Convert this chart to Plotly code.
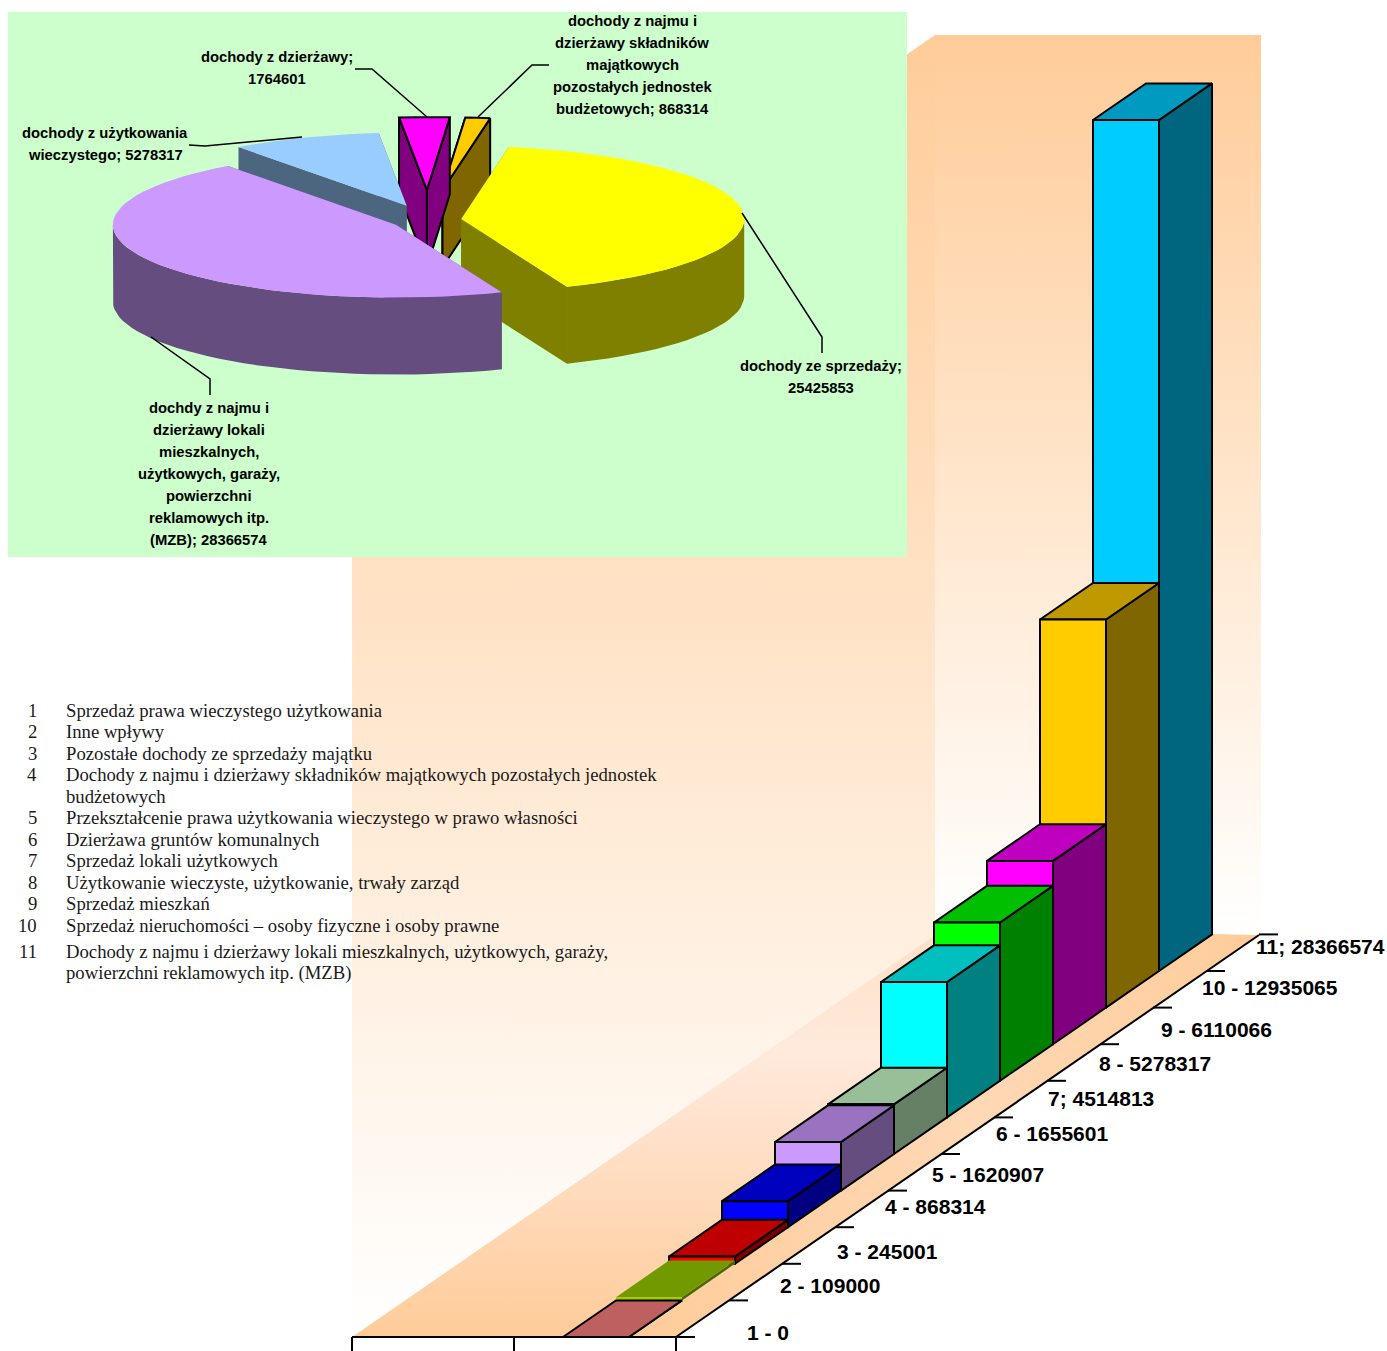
"""
Recreates the chart pair: exploded 3D pie above, stepped 3D bars with legend list.
Both are drawn on one pixel-sized cartesian plot with a small oblique projection.
"""
import math

import plotly.graph_objects as go


# Bars
bar_values = [0, 109000, 245001, 868314, 1620907, 1655601, 4514813, 5278317, 6110066, 12935065, 28366574]
bar_labels = [
    '1 - 0', '2 - 109000', '3 - 245001', '4 - 868314', '5 - 1620907', '6 - 1655601',
    '7; 4514813', '8 - 5278317', '9 - 6110066', '10 - 12935065', '11; 28366574'
]
bar_front = ['#ff8080', '#99cc00', '#ff0000', '#0000ff', '#cc99ff', '#ccffcc',
             '#00ffff', '#00ff00', '#ff00ff', '#ffcc00', '#00ccff']
bar_top = ['#bf6060', '#739900', '#bf0000', '#0000bf', '#9973bf', '#99bf99',
           '#00bfbf', '#00bf00', '#bf00bf', '#bf9900', '#0099bf']
bar_side = ['#804040', '#4d6600', '#800000', '#000080', '#664d80', '#668066',
            '#008080', '#008000', '#800080', '#806600', '#006680']

# Pie, clockwise from the first slice
pie_values = [25425853, 28366574, 5278317, 1764601, 868314]
pie_top = ['#ffff00', '#cc99ff', '#99ccff', '#ff00ff', '#ffcc00']
pie_side = ['#808000', '#664d80', '#4d6680', '#800080', '#806600']
pie_explode = [0.118, 0.13, 0.21, 0.41, 0.41]
pie_outlined = [False, False, False, True, True]
pie_draw_order = [4, 3, 2, 0, 1]

pie_label_lines = [
    ['dochody ze sprzedaży;', '25425853'],
    ['dochdy z najmu i', 'dzierżawy lokali', 'mieszkalnych,', 'użytkowych, garaży,',
     'powierzchni', 'reklamowych itp.', '(MZB); 28366574'],
    ['dochody z użytkowania', 'wieczystego; 5278317'],
    ['dochody z dzierżawy;', '1764601'],
    ['dochody z najmu i', 'dzierżawy składników', 'majątkowych',
     'pozostałych jednostek', 'budżetowych; 868314'],
]

# Legend list
legend_numbers = ['1', '2', '3', '4', '', '5', '6', '7', '8', '9', '10', '11', '']
legend_texts = [
    'Sprzedaż prawa wieczystego użytkowania',
    'Inne wpływy',
    'Pozostałe dochody ze sprzedaży majątku',
    'Dochody z najmu i dzierżawy składników majątkowych pozostałych jednostek',
    'budżetowych',
    'Przekształcenie prawa użytkowania wieczystego w prawo własności',
    'Dzierżawa gruntów komunalnych',
    'Sprzedaż lokali użytkowych',
    'Użytkowanie wieczyste, użytkowanie, trwały zarząd',
    'Sprzedaż mieszkań',
    'Sprzedaż nieruchomości – osoby fizyczne i osoby prawne',
    'Dochody z najmu i dzierżawy lokali mieszkalnych, użytkowych, garaży,',
    'powierzchni reklamowych itp. (MZB)',
]

# Layout of the page (pixels)
WIDTH, HEIGHT = 1387, 1351
BAR_X0, BAR_Y0 = 563, 1337
STEP_X, STEP_Y = 53, 36.6
BAR_W = 66
PX_PER_UNIT = 3.0e-5
PIE_O = (428, 220)
PIE_A, PIE_B = 283, 73
PIE_DEPTH = 77
PIE_START = 80.3

bar_label_x = [768, 830, 887, 935, 988, 1052, 1101, 1155, 1216, 1270, 1320]
bar_label_y = [1332, 1285, 1251, 1206, 1174, 1133, 1098, 1063, 1029, 987, 946]
pie_label_cx = [821, 209, 105, 277, 632]
pie_label_y0 = [365.5, 407.5, 132.5, 56.5, 20.5]
legend_y = [710, 731, 753, 774, 796, 817, 839, 860, 882, 903, 925, 951, 973]

fig = go.Figure()


def poly(points, fill=None, line_width=0, closed=True, gradient=None, line_color='black'):
    """Add one polygon or polyline, in pixel coordinates."""
    xs = [p[0] for p in points]
    ys = [p[1] for p in points]
    if closed:
        xs.append(xs[0])
        ys.append(ys[0])
    kwargs = {}
    if gradient is not None:
        kwargs['fill'] = 'toself'
        kwargs['fillgradient'] = gradient
    elif fill is not None:
        kwargs['fill'] = 'toself'
        kwargs['fillcolor'] = fill
    fig.add_trace(go.Scatter(
        x=xs, y=ys, mode='lines',
        line={'color': line_color, 'width': line_width},
        hoverinfo='skip', showlegend=False,
        **kwargs
    ))


def add_text(x, y, text, size, family, anchor='center', bold=False, color='black'):
    fig.add_annotation(
        x=x, y=y, xref='x', yref='y', text=text, showarrow=False,
        xanchor=anchor, yanchor='middle',
        font={'size': size, 'family': family, 'color': color,
              'weight': 700 if bold else 400}
    )


# Walls
poly([(352, 1337), (352, 437), (935, 35), (935, 935)], gradient={
    'type': 'vertical', 'start': 35, 'stop': 1337,
    'colorscale': [[0, '#ffcc99'], [1, '#ffffff']]
})
poly([(935, 35), (1261, 35), (1261, 935), (935, 935)], gradient={
    'type': 'vertical', 'start': 35, 'stop': 935,
    'colorscale': [[0, '#ffcc99'], [1, '#ffffff']]
})

# Floor
poly([(352, 1337), (629, 1337), (1212, 934), (935, 935)], gradient={
    'type': 'vertical', 'start': 935, 'stop': 1337,
    'colorscale': [[0, '#ffe0c8'], [0.29, '#ffeadc'], [0.51, '#ffe0c9'], [1, '#ffcc99']]
})
poly([(629, 1337), (676, 1337), (1259, 935), (1212, 934)], gradient={
    'type': 'horizontal', 'start': 629, 'stop': 1259,
    'colorscale': [[0, '#ffcc99'], [0.55, '#ffd8b5'], [1, '#ffcc99']]
})

# Pie panel
poly([(8, 12), (907, 12), (907, 557), (8, 557)], fill='#ccffcc')

# Floor axes
poly([(352, 1337), (695, 1337)], closed=False, line_width=2)
poly([(676, 1337), (1259, 935)], closed=False, line_width=2)
for tick_x in (352, 514, 676):
    poly([(tick_x, 1337), (tick_x, 1351)], closed=False, line_width=2)
for i in range(len(bar_values) + 1):
    tick_x = 676 + STEP_X * i
    tick_y = 1337 - STEP_Y * i
    poly([(tick_x, tick_y), (tick_x + 19, tick_y)], closed=False, line_width=2)

# Bars, from the back to the front
for i in reversed(range(len(bar_values))):
    left = BAR_X0 + STEP_X * i
    right = left + BAR_W
    base = BAR_Y0 - STEP_Y * i
    top = base - bar_values[i] * PX_PER_UNIT
    width = 0 if i == 1 else 2
    poly([(right, base), (right + STEP_X, base - STEP_Y),
          (right + STEP_X, top - STEP_Y), (right, top)],
         fill=bar_side[i], line_width=width)
    poly([(left, top), (right, top), (right + STEP_X, top - STEP_Y),
          (left + STEP_X, top - STEP_Y)],
         fill=bar_top[i], line_width=width)
    poly([(left, base), (right, base), (right, top), (left, top)],
         fill=bar_front[i], line_width=width)

# Pie slices
total = sum(pie_values)
angles = [PIE_START]
for value in pie_values:
    angles.append(angles[-1] - value / total * 360)


def rim_point(center, angle):
    rad = math.radians(angle)
    return (center[0] + PIE_A * math.cos(rad), center[1] - PIE_B * math.sin(rad))


def rim_arc(center, start, end):
    n_steps = max(2, int((start - end) / 3))
    return [rim_point(center, start + (end - start) * k / n_steps) for k in range(n_steps + 1)]


def lowered(points):
    return [(p[0], p[1] + PIE_DEPTH) for p in points]


for i in pie_draw_order:
    start, end = angles[i], angles[i + 1]
    off = rim_point((0, 0), (start + end) / 2)
    center = (PIE_O[0] + pie_explode[i] * off[0], PIE_O[1] + pie_explode[i] * off[1])
    rim = rim_arc(center, start, end)
    width = 2 if pie_outlined[i] else 0
    # only the part of the outer wall that faces the viewer
    front_start, front_end = min(start, 0), max(end, -180)
    if front_start > front_end:
        front = rim_arc(center, front_start, front_end)
        poly(front + lowered(front)[::-1], fill=pie_side[i], line_width=width)
    for edge in (rim[0], rim[-1]):
        poly([center, edge, (edge[0], edge[1] + PIE_DEPTH), (center[0], center[1] + PIE_DEPTH)],
             fill=pie_side[i], line_width=width)
    poly([center] + rim, fill=pie_top[i], line_width=width)

# Pie leader lines
for leader in (
    [(742, 213), (822, 337), (822, 353)],
    [(151, 337), (210, 379), (210, 395)],
    [(189, 145), (205, 146), (302, 137)],
    [(355, 69), (372, 69), (427, 117)],
    [(549, 65), (532, 65), (478, 117)],
):
    poly(leader, closed=False, line_width=1.5)

# Texts
for cx, y0, lines in zip(pie_label_cx, pie_label_y0, pie_label_lines):
    for k, line in enumerate(lines):
        add_text(cx, y0 + 22 * k, line, 14.8, 'Liberation Sans', bold=True)

for x, y, label in zip(bar_label_x, bar_label_y, bar_labels):
    add_text(x, y, label, 21, 'Liberation Sans', bold=True)

for y, number, text in zip(legend_y, legend_numbers, legend_texts):
    if number:
        add_text(39, y, number, 18.7, 'Liberation Serif', anchor='right', color='#1a1a1a')
    add_text(64, y, text, 18.7, 'Liberation Serif', anchor='left', color='#1a1a1a')

fig.update_xaxes(range=[0, WIDTH], visible=False, fixedrange=True)
fig.update_yaxes(range=[HEIGHT, 0], visible=False, fixedrange=True)
fig.update_layout(
    width=WIDTH,
    height=HEIGHT,
    margin={'l': 0, 'r': 0, 't': 0, 'b': 0},
    paper_bgcolor='white',
    plot_bgcolor='white',
    showlegend=False
)
fig.write_html(
    "out.html",
    config={'displayModeBar': False},
    post_script="document.body.style.margin='0';document.body.style.overflow='hidden';"
)
